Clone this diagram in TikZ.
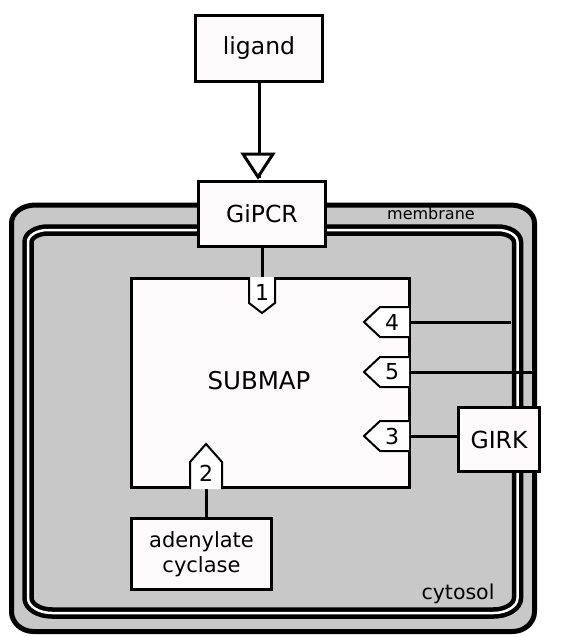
\documentclass[tikz,border=0pt]{standalone}
\usepackage{fontspec}
\setmainfont{DejaVu Sans}
\usetikzlibrary{arrows.meta}
\definecolor{memgray}{RGB}{200,200,200}
\definecolor{boxfill}{RGB}{253,251,252}
\tikzset{
  box/.style={draw=black, line width=3pt, fill=boxfill, inner sep=0pt, align=center, font=\fontsize{23.5}{27}\selectfont},
  portshape/.style={draw=black, line width=2pt, fill=white, line join=miter},
  portlabel/.style={inner sep=0pt, font=\fontsize{22}{26}\selectfont},
  conn/.style={draw=black, line width=3pt},
  complabel/.style={inner sep=0pt}
}
\begin{document}
\begin{tikzpicture}[x=1pt,y=1pt]
\useasboundingbox (0,0) rectangle (567,-637);

% membrane compartment (outer line)
\path[fill=memgray, draw=black, line width=5pt]
  (11.5,-223) arc[start angle=180,end angle=90,x radius=24pt,y radius=18pt]
  -- (510.5,-205) arc[start angle=90,end angle=0,x radius=24pt,y radius=18pt]
  -- (534.5,-611.5) arc[start angle=0,end angle=-90,x radius=22pt,y radius=20pt]
  -- (33.5,-631.5) arc[start angle=-90,end angle=-180,x radius=22pt,y radius=20pt]
  -- cycle;
% inner double line
\path[draw=black, line width=4.5pt, double=white, double distance=2.5pt]
  (28,-242) arc[start angle=180,end angle=90,x radius=20pt,y radius=12pt]
  -- (497.5,-230) arc[start angle=90,end angle=0,x radius=20pt,y radius=12pt]
  -- (517.5,-598) arc[start angle=0,end angle=-90,x radius=24pt,y radius=15pt]
  -- (52,-613) arc[start angle=-90,end angle=-180,x radius=24pt,y radius=15pt]
  -- cycle;

\node[complabel, font=\fontsize{16}{19}\selectfont] (memlabel) at (431,-214) {membrane};
\node[complabel, font=\fontsize{20.5}{24}\selectfont] (cytlabel) at (458,-594) {cytosol};

% submap
\node[box, minimum width=278pt, minimum height=209pt] (submap) at (270.5,-383) {};
\node[inner sep=0pt, font=\fontsize{24.5}{28}\selectfont] (submaplabel) at (259,-381) {SUBMAP};

% entities
\node[box, minimum width=127pt, minimum height=66pt] (ligand) at (259,-48.5) {ligand};
\node[box, minimum width=127pt, minimum height=65pt] (gipcr) at (262,-214) {GiPCR};
\node[box, minimum width=140pt, minimum height=71pt, font=\fontsize{21}{25}\selectfont] (adcy) at (201.5,-554) {adenylate\\cyclase};

% port anchor coordinates
\coordinate (p1) at (262,-277);
\coordinate (p2) at (206,-489);
\coordinate (p3) at (409,-436);
\coordinate (p4) at (409,-322);
\coordinate (p5) at (409,-372);
\coordinate (m4) at (511,-322);
\coordinate (m5) at (532,-372);

% connectors
\draw[conn] (gipcr.south) -- (p1);
\draw[conn] (p2) -- (p2 |- adcy.north);
\draw[conn] (p4) -- (m4);
\draw[conn] (p5) -- (m5);
\draw[conn] (ligand.south) -- ([yshift=2pt]ligand.south |- gipcr.north);
\fill[white] (243,-154) -- (273,-154) -- (258,-177) -- cycle;
\draw[line width=3pt, line join=miter] (243,-154) -- (273,-154) -- (258,-177) -- cycle;

% GIRK
\node[box, minimum width=81pt, minimum height=64pt] (girk) at (499,-439.5) {GIRK};
\draw[conn] (p3) -- (p3 -| girk.west);

% ports
\draw[portshape] (249,-277) -- (249,-303) -- (262,-313) -- (275,-303) -- (275,-277);
\node[portlabel] (l1) at (262,-292) {1};
\draw[portshape] (190,-489) -- (190,-462) -- (206,-444) -- (222,-462) -- (222,-489);
\node[portlabel] (l2) at (206,-473) {2};
\draw[portshape] (409,-307) -- (380,-307) -- (364,-322) -- (380,-337) -- (409,-337);
\node[portlabel] (l4) at (392,-322) {4};
\draw[portshape] (409,-357) -- (380,-357) -- (364,-372) -- (380,-387) -- (409,-387);
\node[portlabel] (l5) at (392,-372) {5};
\draw[portshape] (409,-421) -- (380,-421) -- (364,-436) -- (380,-451) -- (409,-451);
\node[portlabel] (l3) at (392,-436) {3};
\end{tikzpicture}
\end{document}
